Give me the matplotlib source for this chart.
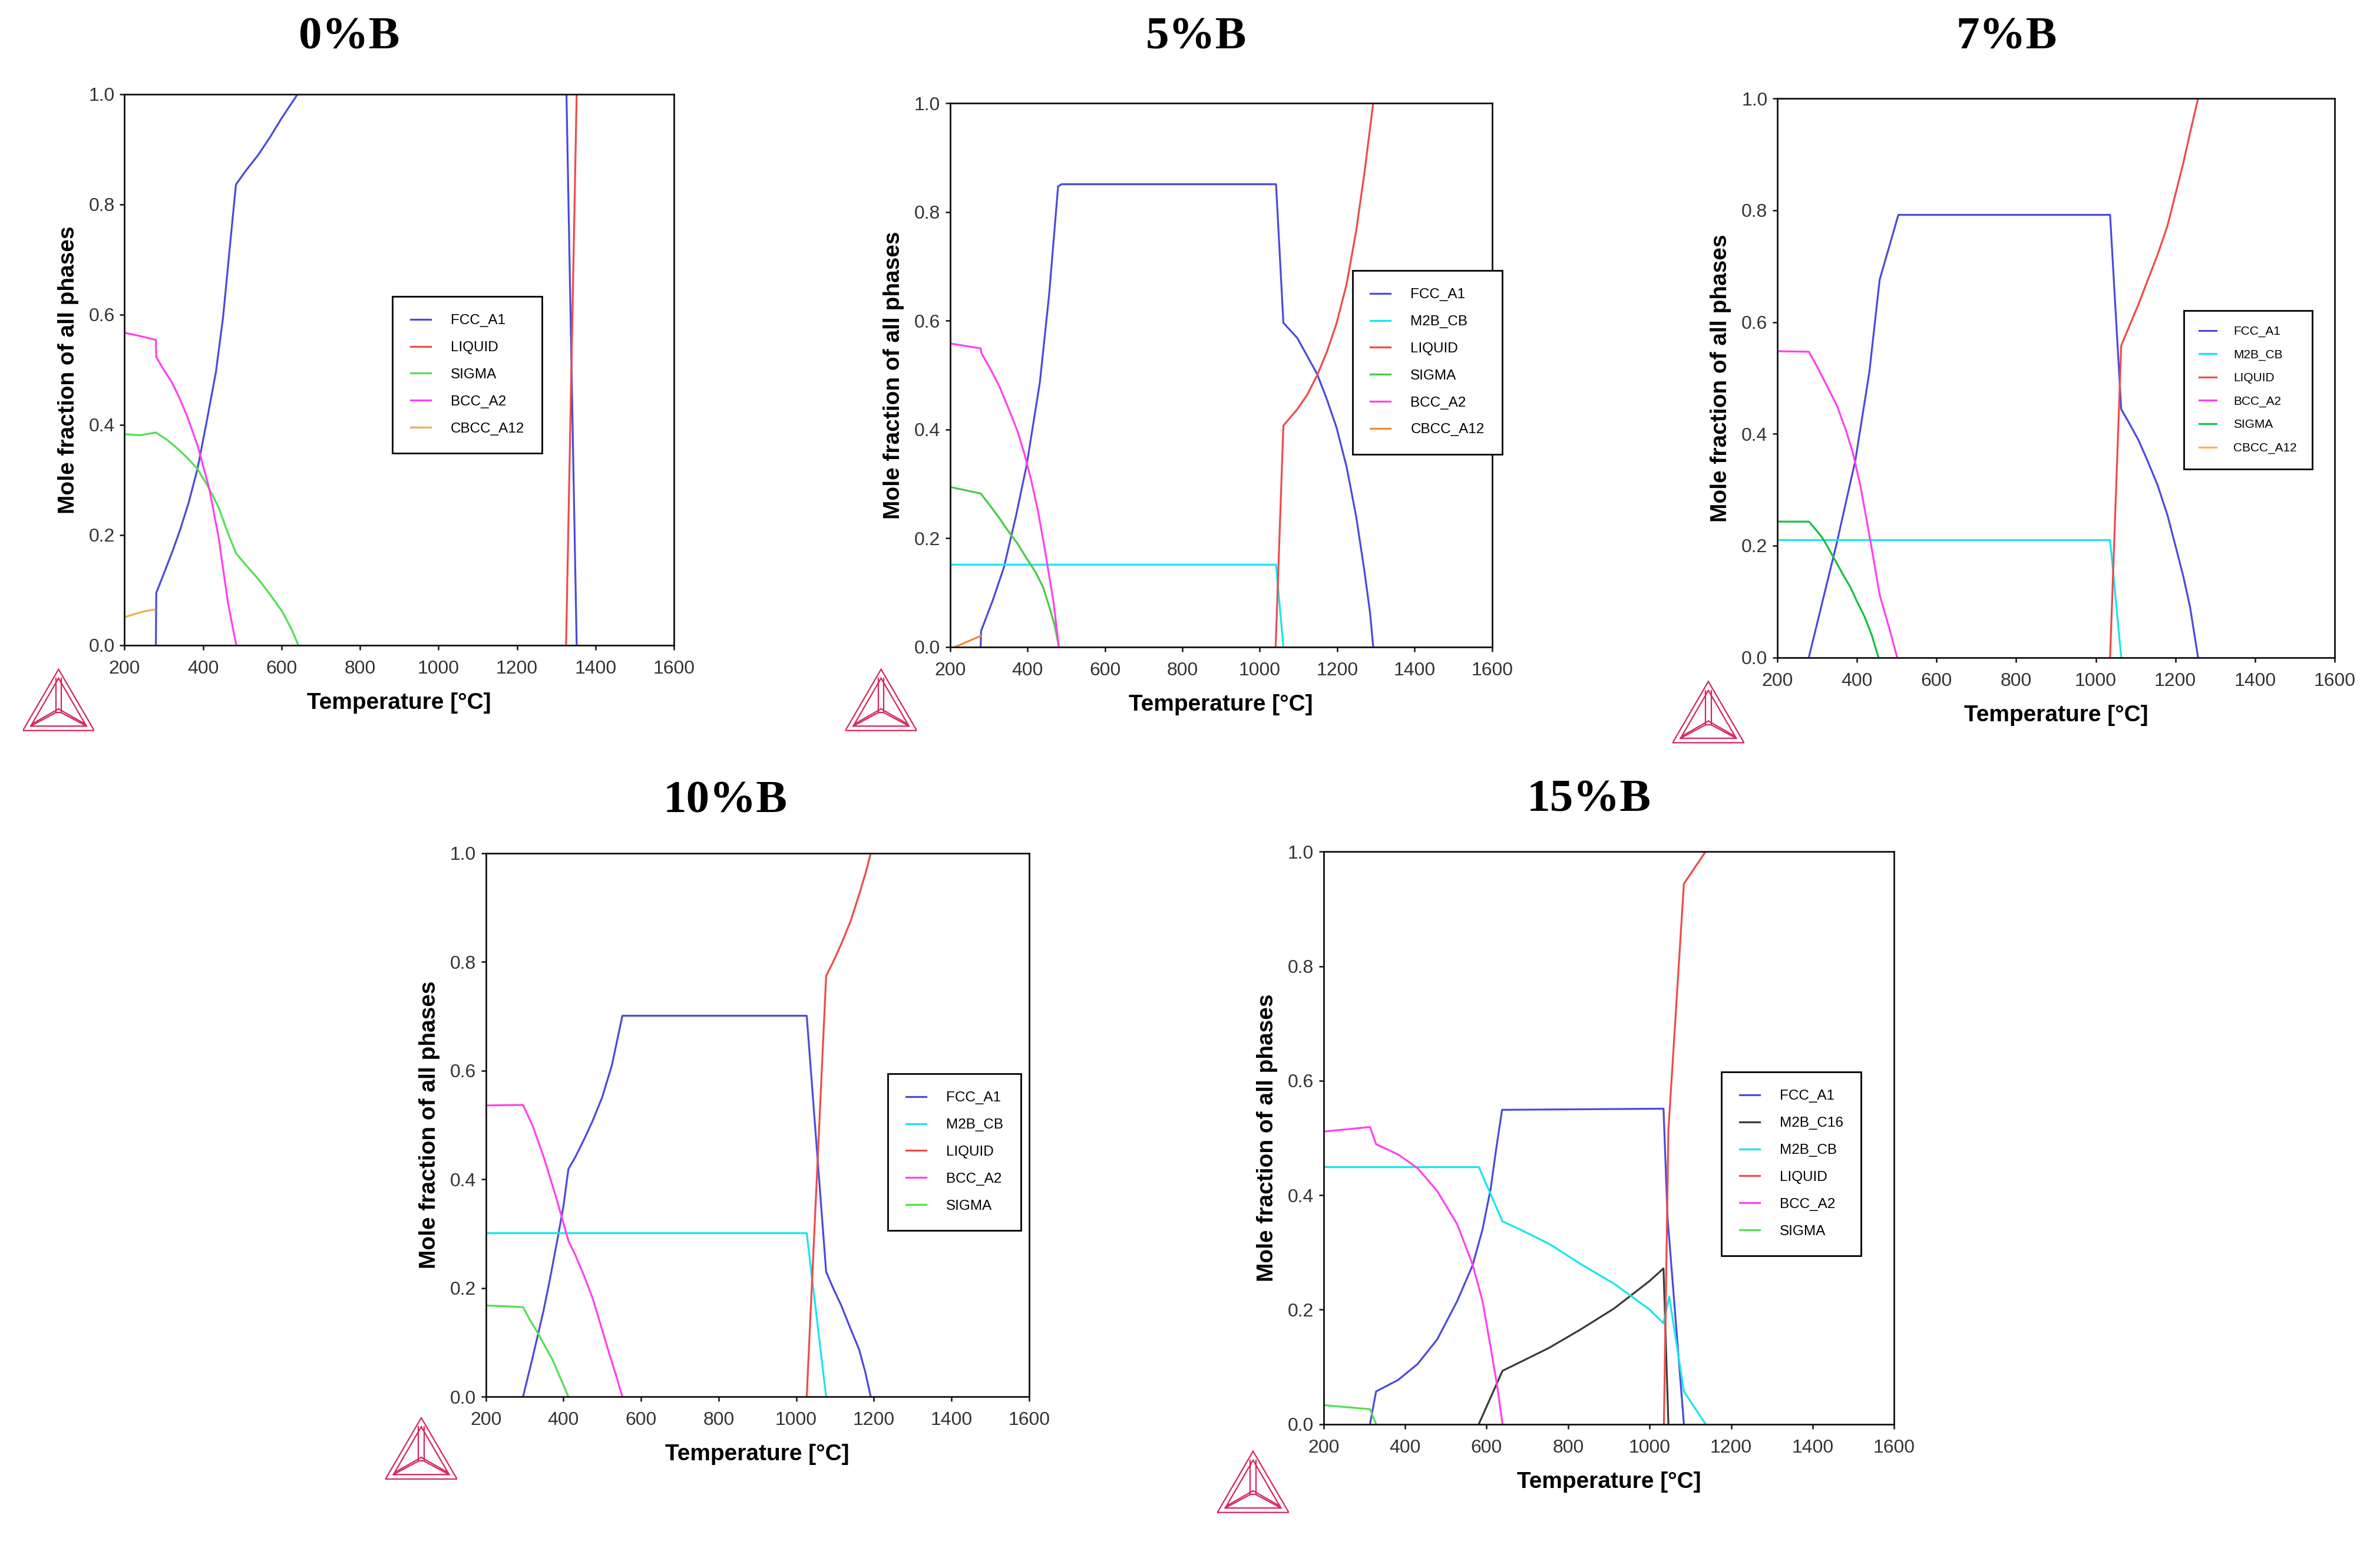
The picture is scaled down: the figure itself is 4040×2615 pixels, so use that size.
import matplotlib
matplotlib.use("Agg")
import matplotlib.pyplot as plt
from matplotlib.ticker import FormatStrFormatter

# ---------------- DATA ----------------
TITLES = ["0%B", "5%B", "7%B", "10%B", "15%B"]
X_TICKS = [200, 400, 600, 800, 1000, 1200, 1400, 1600]
Y_TICKS = [0.0, 0.2, 0.4, 0.6, 0.8, 1.0]

# 0%B
B0_FCC_T = [280, 281, 302, 322, 342, 364, 386, 410, 433, 451, 469, 484, 510, 540, 570, 600, 641, 1326, 1352]
B0_FCC_Y = [0.0, 0.095, 0.133, 0.17, 0.21, 0.26, 0.32, 0.408, 0.496, 0.594, 0.727, 0.836, 0.862, 0.889, 0.921, 0.956, 1.0, 1.0, 0.0]
B0_LIQ_T = [1325, 1352]
B0_LIQ_Y = [0.0, 1.0]
B0_SIG_T = [200, 240, 280, 310, 338, 360, 386, 416, 440, 460, 484, 510, 541, 570, 601, 625, 643]
B0_SIG_Y = [0.383, 0.381, 0.386, 0.372, 0.355, 0.34, 0.32, 0.284, 0.25, 0.21, 0.167, 0.145, 0.12, 0.093, 0.062, 0.03, 0.0]
B0_BCC_T = [200, 240, 280, 281, 300, 320, 338, 360, 386, 416, 440, 463, 475, 485]
B0_BCC_Y = [0.567, 0.561, 0.554, 0.523, 0.50, 0.478, 0.452, 0.415, 0.363, 0.284, 0.195, 0.08, 0.035, 0.0]
B0_CBCC_T = [200, 242, 277]
B0_CBCC_Y = [0.051, 0.060, 0.065]

# 5%B
B5_FCC_T = [279, 280, 310, 339, 370, 398, 432, 456, 479, 488, 1042, 1061, 1097, 1148, 1173, 1198, 1224, 1249, 1270, 1285, 1293]
B5_FCC_Y = [0.0, 0.029, 0.085, 0.146, 0.24, 0.335, 0.487, 0.649, 0.847, 0.851, 0.851, 0.596, 0.568, 0.502, 0.456, 0.404, 0.332, 0.24, 0.141, 0.062, 0.0]
B5_M2B_T = [200, 1042, 1061]
B5_M2B_Y = [0.151, 0.151, 0.0]
B5_LIQ_T = [1041, 1061, 1097, 1122, 1148, 1173, 1198, 1224, 1249, 1270, 1293]
B5_LIQ_Y = [0.0, 0.407, 0.437, 0.463, 0.499, 0.542, 0.594, 0.666, 0.765, 0.87, 1.0]
B5_SIG_T = [200, 279, 305, 328, 350, 374, 400, 421, 440, 456, 470, 481]
B5_SIG_Y = [0.294, 0.282, 0.258, 0.236, 0.213, 0.19, 0.16, 0.137, 0.11, 0.074, 0.04, 0.0]
B5_BCC_T = [200, 279, 281, 305, 328, 350, 374, 392, 409, 427, 444, 467, 481]
B5_BCC_Y = [0.558, 0.549, 0.54, 0.51, 0.478, 0.44, 0.397, 0.355, 0.308, 0.25, 0.182, 0.083, 0.0]
B5_CBCC_T = [214, 279]
B5_CBCC_Y = [0.0, 0.02]

# 7%B
B7_FCC_T = [279, 349, 396, 431, 457, 504, 1036, 1064, 1085, 1108, 1130, 1155, 1180, 1202, 1220, 1237, 1257]
B7_FCC_Y = [0.0, 0.204, 0.353, 0.51, 0.676, 0.792, 0.792, 0.444, 0.418, 0.388, 0.352, 0.309, 0.255, 0.195, 0.145, 0.09, 0.0]
B7_M2B_T = [200, 1036, 1064]
B7_M2B_Y = [0.21, 0.21, 0.0]
B7_LIQ_T = [1036, 1064, 1085, 1108, 1130, 1155, 1180, 1202, 1220, 1237, 1257]
B7_LIQ_Y = [0.0, 0.558, 0.594, 0.633, 0.674, 0.72, 0.772, 0.834, 0.885, 0.939, 1.0]
B7_BCC_T = [200, 279, 300, 326, 350, 373, 390, 408, 422, 437, 457, 480, 501]
B7_BCC_Y = [0.548, 0.547, 0.52, 0.484, 0.45, 0.405, 0.365, 0.309, 0.255, 0.195, 0.112, 0.055, 0.0]
B7_SIG_T = [200, 279, 295, 314, 330, 349, 365, 384, 400, 419, 437, 454]
B7_SIG_Y = [0.243, 0.243, 0.23, 0.213, 0.193, 0.169, 0.148, 0.125, 0.10, 0.073, 0.04, 0.0]
B7_CBCC_T = [200, 280]
B7_CBCC_Y = [0.0, 0.0]

# 10%B
B10_FCC_T = [296, 320, 349, 365, 384, 400, 413, 430, 453, 475, 500, 525, 552, 1027, 1077, 1095, 1116, 1140, 1162, 1178, 1192]
B10_FCC_Y = [0.0, 0.07, 0.159, 0.215, 0.287, 0.35, 0.419, 0.44, 0.473, 0.507, 0.551, 0.61, 0.701, 0.701, 0.23, 0.20, 0.168, 0.125, 0.087, 0.045, 0.0]
B10_M2B_T = [200, 1027, 1077]
B10_M2B_Y = [0.301, 0.301, 0.0]
B10_LIQ_T = [1027, 1077, 1095, 1116, 1140, 1162, 1178, 1192]
B10_LIQ_Y = [0.0, 0.774, 0.80, 0.833, 0.875, 0.924, 0.962, 1.0]
B10_BCC_T = [200, 296, 320, 349, 365, 384, 400, 413, 430, 453, 475, 500, 518, 535, 552]
B10_BCC_Y = [0.536, 0.537, 0.50, 0.442, 0.405, 0.36, 0.32, 0.287, 0.262, 0.223, 0.182, 0.123, 0.08, 0.041, 0.0]
B10_SIG_T = [200, 296, 315, 337, 355, 372, 392, 413]
B10_SIG_Y = [0.168, 0.165, 0.14, 0.114, 0.09, 0.068, 0.035, 0.0]

# 15%B
B15_FCC_T = [314, 329, 383, 431, 479, 528, 566, 590, 610, 624, 638, 1034, 1044, 1084]
B15_FCC_Y = [0.0, 0.057, 0.077, 0.105, 0.148, 0.215, 0.278, 0.34, 0.411, 0.483, 0.549, 0.551, 0.36, 0.0]
B15_C16_T = [581, 639, 682, 753, 830, 913, 1000, 1034, 1046]
B15_C16_Y = [0.0, 0.093, 0.108, 0.133, 0.165, 0.202, 0.25, 0.272, 0.0]
B15_M2B_T = [200, 581, 639, 682, 753, 830, 913, 1000, 1034, 1048, 1084, 1137]
B15_M2B_Y = [0.449, 0.449, 0.354, 0.34, 0.315, 0.28, 0.245, 0.20, 0.176, 0.223, 0.057, 0.0]
B15_LIQ_T = [1035, 1046, 1084, 1137]
B15_LIQ_Y = [0.0, 0.513, 0.944, 1.0]
B15_BCC_T = [200, 314, 329, 383, 431, 479, 528, 566, 590, 610, 627, 639]
B15_BCC_Y = [0.511, 0.519, 0.489, 0.471, 0.447, 0.407, 0.349, 0.278, 0.215, 0.134, 0.062, 0.0]
B15_SIG_T = [200, 314, 329]
B15_SIG_Y = [0.033, 0.026, 0.0]

# ---------------- STYLE ----------------
C_FCC = "#4a4ade"
C_M2B = "#14e6f0"
C_LIQ = "#f04a4a"
C_SIG = "#50e050"
C_BCC = "#ff40ee"
C_C16 = "#3a3a3a"

plt.rcParams["font.family"] = ["Liberation Sans", "DejaVu Sans"]

fig = plt.figure(figsize=(40.4, 26.15), dpi=100)

AX_POS = [
    (0.0523, 0.5813, 0.2309, 0.3576),
    (0.3992, 0.5803, 0.2277, 0.3527),
    (0.7468, 0.5734, 0.2341, 0.3626),
    (0.2041, 0.0936, 0.2283, 0.3527),
    (0.5561, 0.0759, 0.2398, 0.3714),
]
TITLE_POS = [(0.1467, 0.9754), (0.5026, 0.9754), (0.8431, 0.9754), (0.3048, 0.4798), (0.6677, 0.4808)]
LEG_POS = [(0.1649, 0.8077), (0.5683, 0.8245), (0.9176, 0.7985), (0.3731, 0.3033), (0.7233, 0.3044)]
LEG_FS = [17.5, 17.5, 15, 17.5, 17.5]
LOGO_POS = [(0.0096, 0.5251), (0.3552, 0.5251), (0.7028, 0.5172), (0.1620, 0.0394), (0.5115, 0.0177)]

panels = [
    [("FCC_A1", B0_FCC_T, B0_FCC_Y, C_FCC), ("LIQUID", B0_LIQ_T, B0_LIQ_Y, C_LIQ),
     ("SIGMA", B0_SIG_T, B0_SIG_Y, C_SIG), ("BCC_A2", B0_BCC_T, B0_BCC_Y, C_BCC),
     ("CBCC_A12", B0_CBCC_T, B0_CBCC_Y, "#e8b450")],
    [("FCC_A1", B5_FCC_T, B5_FCC_Y, C_FCC), ("M2B_CB", B5_M2B_T, B5_M2B_Y, C_M2B),
     ("LIQUID", B5_LIQ_T, B5_LIQ_Y, C_LIQ), ("SIGMA", B5_SIG_T, B5_SIG_Y, "#44cc44"),
     ("BCC_A2", B5_BCC_T, B5_BCC_Y, C_BCC), ("CBCC_A12", B5_CBCC_T, B5_CBCC_Y, "#f08a30")],
    [("FCC_A1", B7_FCC_T, B7_FCC_Y, C_FCC), ("M2B_CB", B7_M2B_T, B7_M2B_Y, C_M2B),
     ("LIQUID", B7_LIQ_T, B7_LIQ_Y, C_LIQ), ("BCC_A2", B7_BCC_T, B7_BCC_Y, C_BCC),
     ("SIGMA", B7_SIG_T, B7_SIG_Y, "#14c040"), ("CBCC_A12", B7_CBCC_T, B7_CBCC_Y, "#ffb040")],
    [("FCC_A1", B10_FCC_T, B10_FCC_Y, C_FCC), ("M2B_CB", B10_M2B_T, B10_M2B_Y, C_M2B),
     ("LIQUID", B10_LIQ_T, B10_LIQ_Y, C_LIQ), ("BCC_A2", B10_BCC_T, B10_BCC_Y, C_BCC),
     ("SIGMA", B10_SIG_T, B10_SIG_Y, C_SIG)],
    [("FCC_A1", B15_FCC_T, B15_FCC_Y, C_FCC), ("M2B_C16", B15_C16_T, B15_C16_Y, C_C16),
     ("M2B_CB", B15_M2B_T, B15_M2B_Y, C_M2B), ("LIQUID", B15_LIQ_T, B15_LIQ_Y, C_LIQ),
     ("BCC_A2", B15_BCC_T, B15_BCC_Y, C_BCC), ("SIGMA", B15_SIG_T, B15_SIG_Y, C_SIG)],
]


def draw_logo(x0, y0, w=0.030, h=0.0414):
    lax = fig.add_axes([x0, y0, w, h])
    lax.set_xlim(0, 1)
    lax.set_ylim(0, 1)
    lax.axis("off")
    col = "#d6245a"
    kw = dict(color=col, lw=1.6, solid_joinstyle="miter")
    lax.plot([0.0, 1.0, 0.5, 0.0], [0.02, 0.02, 0.98, 0.02], **kw)
    lax.plot([0.11, 0.89, 0.5, 0.11], [0.09, 0.09, 0.84, 0.09], **kw)
    lax.plot([0.46, 0.46, 0.54, 0.54], [0.84, 0.30, 0.30, 0.84], **kw)
    lax.plot([0.11, 0.46], [0.09, 0.30], **kw)
    lax.plot([0.14, 0.50], [0.13, 0.36], **kw)
    lax.plot([0.89, 0.54], [0.09, 0.30], **kw)
    lax.plot([0.86, 0.50], [0.13, 0.36], **kw)


for i, series in enumerate(panels):
    ax = fig.add_axes(AX_POS[i])
    for name, t, y, c in series:
        ax.plot(t, y, color=c, lw=2.3, label=name, solid_joinstyle="round")
    ax.set_xlim(200, 1600)
    ax.set_ylim(0.0, 1.0)
    ax.set_xticks(X_TICKS)
    ax.set_yticks(Y_TICKS)
    ax.yaxis.set_major_formatter(FormatStrFormatter("%.1f"))
    for sp in ax.spines.values():
        sp.set_linewidth(2.0)
        sp.set_color("#111111")
    ax.tick_params(axis="both", direction="out", length=6, width=1.8,
                   labelsize=23, labelcolor="#333333", color="#111111")
    ax.tick_params(axis="x", pad=12)
    ax.tick_params(axis="y", pad=6)
    ax.set_xlabel("Temperature [°C]", fontsize=28, fontweight="bold", labelpad=18)
    ax.set_ylabel("Mole fraction of all phases", fontsize=28, fontweight="bold", labelpad=12)
    leg = ax.legend(loc="upper left", bbox_to_anchor=LEG_POS[i], bbox_transform=fig.transFigure,
                    borderaxespad=0, fontsize=LEG_FS[i], frameon=True, fancybox=False,
                    framealpha=1, edgecolor="black", handlelength=1.4, handletextpad=1.4,
                    borderpad=1.25, labelspacing=0.98)
    leg.get_frame().set_linewidth(2.0)
    for line in leg.get_lines():
        line.set_linewidth(2.3)
    fig.text(TITLE_POS[i][0], TITLE_POS[i][1], TITLES[i], ha="center", va="center",
             fontsize=57, fontweight="bold", family=["Liberation Serif", "DejaVu Serif"])
    draw_logo(*LOGO_POS[i])

fig.savefig("out.png", dpi=100)
